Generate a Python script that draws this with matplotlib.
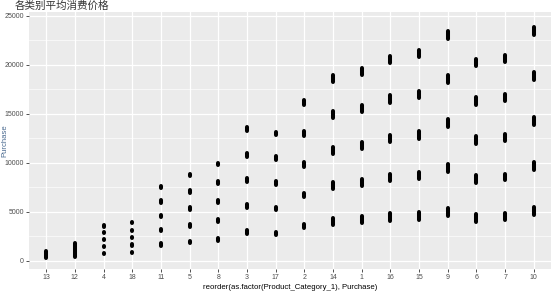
import matplotlib.pyplot as plt
from matplotlib.ticker import MultipleLocator

# categories in plotted (reordered) order
categories = ['13', '12', '4', '18', '11', '5', '8', '3', '17', '2',
              '14', '1', '16', '15', '9', '6', '7', '10']

# centre of each vertical cluster of Purchase values per category
centers = [
    [610],
    [1090],
    [755, 1469, 2143, 2857, 3541],
    [857, 1602, 2347, 3102, 3878],
    [1633, 3133, 4561, 6061, 7520],
    [1908, 3571, 5306, 7041, 8745],
    [2184, 4082, 6020, 7959, 9867],
    [2898, 5551, 8204, 10816, 13408],
    [2796, 5347, 7929, 10480, 13000],
    [3541, 6704, 9837, 13000, 16163],
    [4020, 7653, 11265, 14939, 18571],
    [4184, 8000, 11776, 15551, 19327],
    [4459, 8470, 12449, 16500, 20551],
    [4561, 8714, 12827, 16980, 21163],
    [4969, 9490, 14020, 18510, 23031],
    [4357, 8337, 12316, 16296, 20245],
    [4490, 8541, 12592, 16633, 20653],
    [5071, 9663, 14255, 18847, 23469],
]
# half height of each cluster (Purchase units)
spread = [330, 700, 80, 80, 130, 150, 150, 195, 170, 245,
          330, 330, 365, 360, 415, 360, 330, 415]

fig = plt.figure(figsize=(5.54, 2.92), dpi=100)
ax = fig.add_axes([0.0523, 0.0788, 0.9423, 0.8802])
ax.set_facecolor('#EBEBEB')

for i, (cs, s) in enumerate(zip(centers, spread)):
    lows = [c - s for c in cs]
    highs = [c + s for c in cs]
    ax.vlines([i] * len(cs), lows, highs, colors='black',
              linewidth=2.9, capstyle='round', zorder=3)

ax.set_xlim(-0.6, 17.6)
ax.set_ylim(-847, 25378)
ax.set_xticks(range(len(categories)))
ax.set_xticklabels(categories)
ax.yaxis.set_major_locator(MultipleLocator(5000))
ax.yaxis.set_minor_locator(MultipleLocator(2500))

ax.grid(which='major', color='white', linewidth=0.9)
ax.grid(which='minor', axis='y', color='white', linewidth=0.45)
ax.set_axisbelow(True)
for sp in ax.spines.values():
    sp.set_visible(False)

ax.tick_params(which='major', length=2, width=0.6, color='#333333',
               labelsize=5, labelcolor='#4D4D4D', pad=1.5)
ax.tick_params(which='minor', length=0)
for lab in ax.get_xticklabels() + ax.get_yticklabels():
    lab.set_family('Liberation Sans')

ax.set_xlabel('reorder(as.factor(Product_Category_1), Purchase)',
              fontsize=5.6, family='Liberation Sans', labelpad=2)
ax.set_ylabel('Purchase', fontsize=5.6, family='Liberation Sans',
              color='#4a6a90', va='center')
ax.yaxis.set_label_coords(-0.047, 0.5)

fig.text(0.027, 0.997, '各类别平均消费价格', fontsize=7.6,
         family=['Noto Sans CJK SC', 'DejaVu Sans'],
         color='#333333', ha='left', va='top')

plt.savefig('out.png', dpi=100)
